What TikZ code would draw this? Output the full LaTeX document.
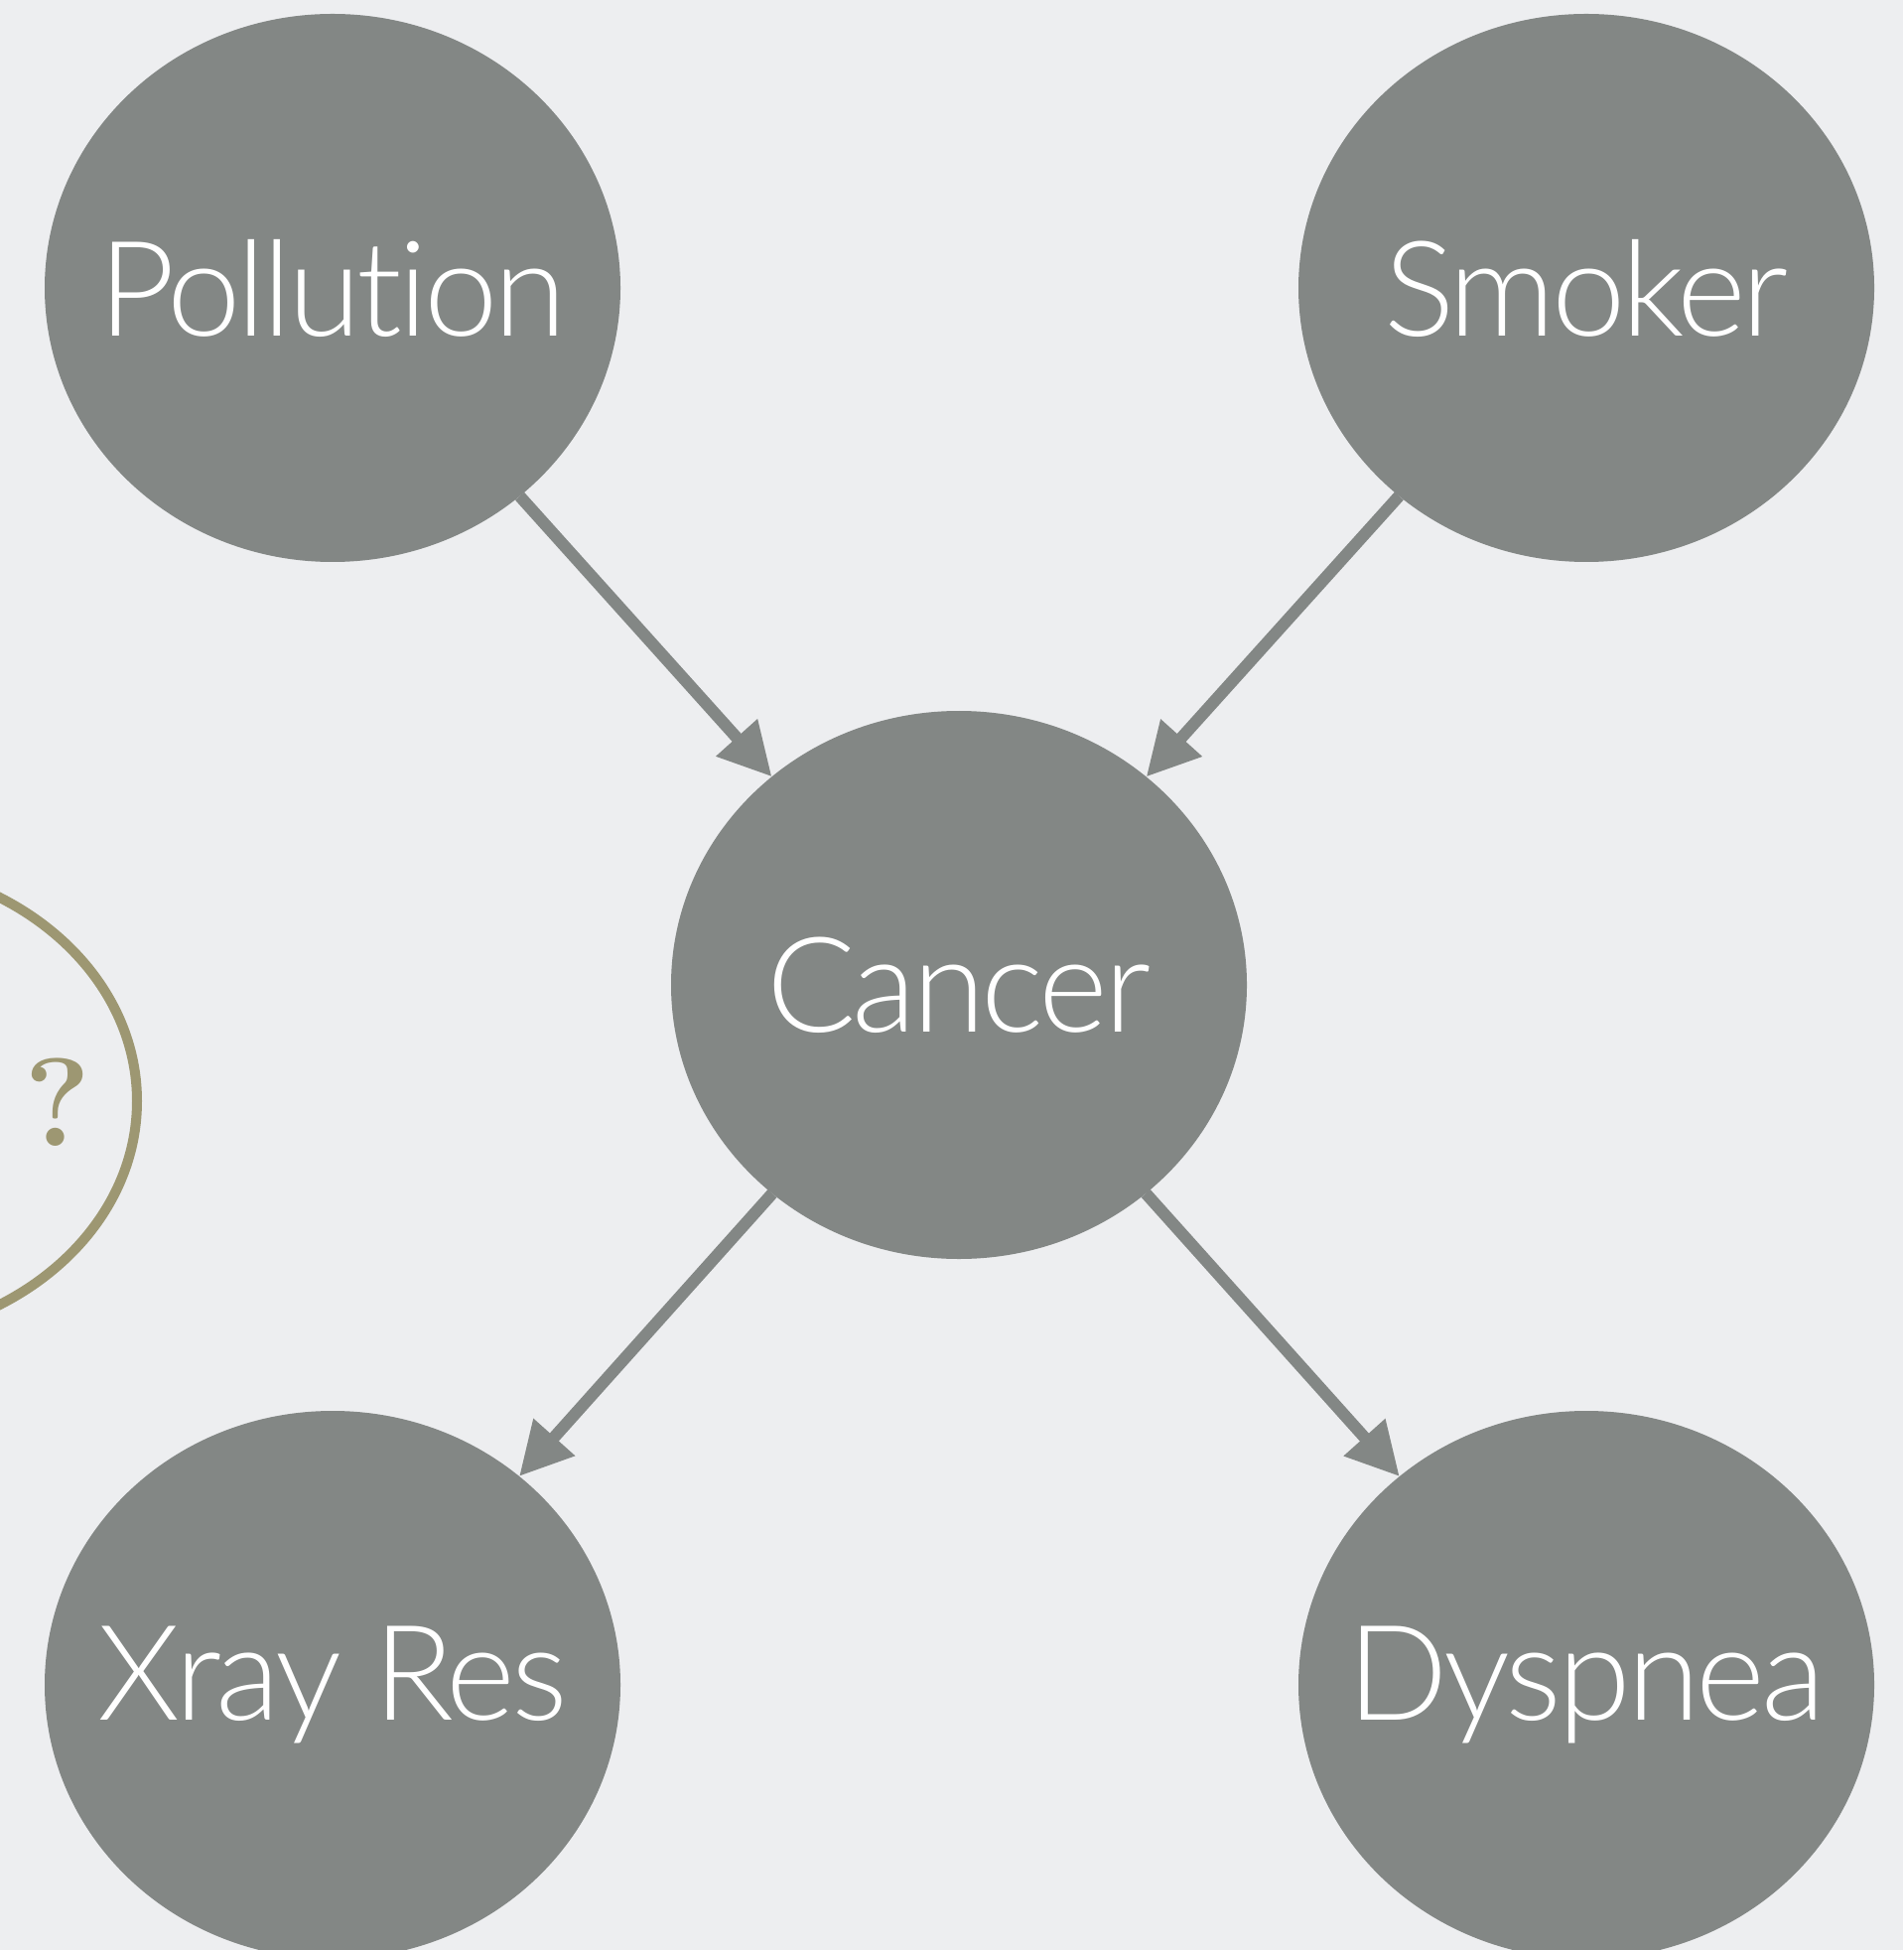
\documentclass[tikz,border=0pt]{standalone}
\usepackage{fontspec}
\IfFontExistsTF{Lato Light}{\setmainfont{Lato Light}[Ligatures=NoCommon,LetterSpace=-3]}{\setmainfont{Lato}[Ligatures=NoCommon,LetterSpace=-3]}
\newfontfamily\qfont{Latin Modern Roman}
\usetikzlibrary{shapes.geometric,arrows.meta}
\definecolor{bg}{RGB}{237,238,240}
\definecolor{nodegray}{RGB}{131,135,133}
\definecolor{olive}{RGB}{157,151,114}
\tikzset{
  bnode/.style={ellipse, fill=nodegray, draw=none, minimum width=5.8cm, minimum height=5.52cm, inner sep=0pt, outer sep=0pt, text=white, font=\fontsize{38}{44}\selectfont},
  edge/.style={draw=nodegray, line width=0.12cm, -{Triangle[length=0.53cm,width=0.53cm]}}
}
\begin{document}
\begin{tikzpicture}
\useasboundingbox (0,0) rectangle (19.17,-19.64);
\clip (0,0) rectangle (19.17,-19.64);
\fill[bg] (0,0) rectangle (19.17,-19.64);
\draw[olive, line width=0.1cm] (-1.50,-11.09) ellipse [x radius=2.88cm, y radius=2.40cm];
\node[text=olive, font=\qfont\bfseries\fontsize{36}{44}\selectfont] (q) at (0.58,-11.10) {?};
\node[bnode] (pol) at (3.35,-2.90) {\makebox[0pt]{Pollution}};
\node[bnode] (smk) at (15.98,-2.90) {\makebox[0pt]{Smoker}};
\node[bnode] (can) at (9.66,-9.92) {\makebox[0pt]{Cancer}};
\node[bnode] (xr) at (3.35,-16.97) {\makebox[0pt]{Xray Res}};
\node[bnode] (dys) at (15.98,-16.97) {\makebox[0pt]{Dyspnea}};
\draw[edge] (pol) -- (can);
\draw[edge] (smk) -- (can);
\draw[edge] (can) -- (xr);
\draw[edge] (can) -- (dys);
\end{tikzpicture}
\end{document}
